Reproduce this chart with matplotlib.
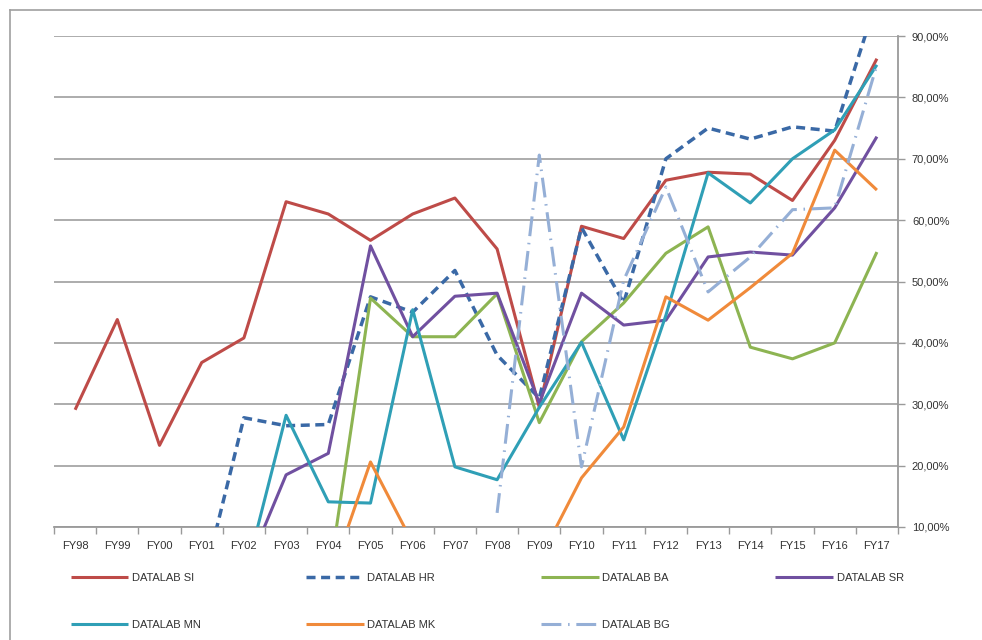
import numpy as np
import matplotlib
matplotlib.use("Agg")
import matplotlib.pyplot as plt
from matplotlib.lines import Line2D
from matplotlib.ticker import FuncFormatter, MultipleLocator

plt.rcParams['font.family'] = ['Liberation Sans', 'DejaVu Sans']

years = ["FY98", "FY99", "FY00", "FY01", "FY02", "FY03", "FY04", "FY05", "FY06", "FY07",
         "FY08", "FY09", "FY10", "FY11", "FY12", "FY13", "FY14", "FY15", "FY16", "FY17"]
N = None
si = [29.1, 43.8, 23.3, 36.8, 40.8, 63.0, 61.0, 56.7, 61.0, 63.6,
      55.3, 29.5, 59.0, 57.0, 66.5, 67.8, 67.5, 63.2, 73.0, 86.3]
hr = [N, N, N, 0.0, 27.8, 26.5, 26.7, 47.5, 45.0, 51.8,
      38.0, 31.0, 58.8, 46.5, 70.0, 75.0, 73.2, 75.2, 74.5, 96.0]
ba = [N, N, N, N, N, N, 1.0, 47.3, 41.0, 41.0,
      48.0, 27.0, 40.2, 46.5, 54.6, 58.9, 39.3, 37.4, 40.0, 54.8]
sr = [N, N, N, N, 2.0, 18.5, 22.0, 55.8, 41.0, 47.6,
      48.1, 30.2, 48.1, 42.9, 43.7, 54.0, 54.8, 54.3, 62.0, 73.6]
mn = [N, N, N, N, 1.2, 28.2, 14.1, 13.9, 45.4, 19.8,
      17.7, 29.5, 40.1, 24.2, 44.5, 67.7, 62.8, 70.0, 74.7, 85.3]
mk = [N, N, N, N, N, N, 0.7, 20.6, 7.4, 5.0,
      5.0, 4.6, 18.0, 26.3, 47.5, 43.7, 49.0, 54.6, 71.4, 64.9]
bg = [N, N, N, N, N, N, N, N, N, N,
      12.3, 70.6, 19.8, 50.2, 65.4, 48.3, 54.0, 61.7, 62.0, 85.3]

names = ["DATALAB SI", "DATALAB HR", "DATALAB BA", "DATALAB SR",
         "DATALAB MN", "DATALAB MK", "DATALAB BG"]
series = [si, hr, ba, sr, mn, mk, bg]
colors = ["#BE4B48", "#3A69A6", "#8DB452", "#7050A0", "#2F9FB6", "#F08A3A", "#95AFD6"]
styles = ["-", (0, (2.6, 1.6)), "-", "-", "-", "-", (0, (6.5, 2.2, 0.5, 2.2))]

fig = plt.figure(figsize=(9.82, 6.4), dpi=100)
ax = fig.add_axes([54 / 982, 1 - 527 / 640, (898 - 54) / 982, (527 - 36) / 640])

x = np.arange(len(years))
handles = []
for vals, name, c, ls in zip(series, names, colors, styles):
    y = np.array([np.nan if v is None else v for v in vals], dtype=float)
    lw = 2.5 if name == "DATALAB HR" else 2.2
    h, = ax.plot(x, y, color=c, lw=lw, linestyle=ls, label=name,
                 solid_capstyle='butt', dash_capstyle='butt', zorder=3)
    handles.append(h)

ax.set_xlim(-0.5, len(years) - 0.5)
ax.set_ylim(10, 90)
ax.yaxis.set_major_locator(MultipleLocator(10))
ax.yaxis.tick_right()
ax.yaxis.set_major_formatter(FuncFormatter(lambda v, p: f"{v:.2f}".replace(".", ",") + "%"))
ax.grid(axis='y', color="#A6A6A6", lw=1.3, zorder=0)
ax.set_axisbelow(True)

ax.set_xticks(x)
ax.set_xticklabels(years)
ax.set_xticks(np.arange(-0.5, len(years), 1.0), minor=True)
ax.tick_params(axis='x', which='major', length=0, labelsize=8, pad=10, colors="#333333")
ax.tick_params(axis='x', which='minor', length=5, width=1, color="#9A9A9A")
ax.tick_params(axis='y', which='major', length=5, width=1, color="#9A9A9A",
               labelsize=8, pad=5, labelcolor="#333333")

for s in ["top", "left"]:
    ax.spines[s].set_visible(False)
ax.spines["bottom"].set_color("#9A9A9A")
ax.spines["bottom"].set_linewidth(1.3)
ax.spines["right"].set_color("#9A9A9A")
ax.spines["right"].set_linewidth(1.3)

order = [0, 4, 1, 5, 2, 6, 3]
leg = fig.legend([handles[i] for i in order], [names[i] for i in order],
                 ncol=4, loc="upper left", bbox_to_anchor=(65 / 982, 1 - 567 / 640),
                 frameon=False, fontsize=8, handlelength=5.2, handletextpad=0.3,
                 labelspacing=3.4, columnspacing=9.5, borderpad=0)
for t in leg.get_texts():
    t.set_color("#333333")

# outer frame (top and left edges)
fig.add_artist(Line2D([10 / 982, 1.0], [1 - 10 / 640, 1 - 10 / 640],
                      transform=fig.transFigure, color="#A0A0A0", lw=1.2))
fig.add_artist(Line2D([10 / 982, 10 / 982], [0.0, 1 - 10 / 640],
                      transform=fig.transFigure, color="#A0A0A0", lw=1.2))

fig.savefig("out.png", dpi=100)
